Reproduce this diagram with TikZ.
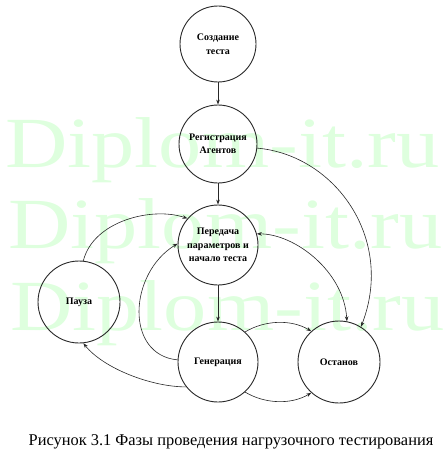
\documentclass[tikz,border=0pt]{standalone}
\usepackage{fontspec}
\setmainfont{Liberation Serif}
\usetikzlibrary{arrows.meta}
\definecolor{wmgreen}{RGB}{222,255,222}
\definecolor{lineink}{RGB}{40,40,40}
\begin{document}
\begin{tikzpicture}[x=1pt,y=-1pt,
  >={Stealth[length=5pt,width=3.6pt]},
  phase/.style={circle,draw=lineink,line width=0.9pt,inner sep=0pt,
    font=\bfseries\fontsize{10}{13.5}\selectfont,align=center},
  conn/.style={draw=lineink,line width=0.6pt,->},
  conn2/.style={draw=lineink,line width=0.6pt,<->},
  wm/.style={text=wmgreen,font=\fontsize{72}{72}\selectfont,anchor=base west,inner sep=0pt,xscale=1.2}]
\useasboundingbox (0,0) rectangle (446,460);
% watermark
\node[wm] (wm1) at (5,167) {Diplom-it.ru};
\node[wm] (wm2) at (8,248) {Diplom-it.ru};
\node[wm] (wm3) at (10,330) {Diplom-it.ru};
% phases
\node[phase,minimum size=76] (create) at (218,44) {Создание\\теста};
\node[phase,minimum size=78] (reg) at (218,144) {Регистрация\\Агентов};
\node[phase,minimum size=80] (pere) at (218,245) {Передача\\параметров и\\начало теста};
\node[phase,minimum size=82] (pause) at (79,302) {Пауза};
\node[phase,minimum size=80] (gen) at (218,362) {Генерация};
\node[phase,minimum size=82] (ost) at (339,362) {Останов};
% caption
\node[font=\fontsize{16.4}{19}\selectfont,anchor=base,inner sep=0pt] (cap) at (231,445)
  {Рисунок 3.1 Фазы проведения нагрузочного тестирования};
% connectors
\draw[conn] (create) -- (reg);
\draw[conn] (reg) -- (pere);
\draw[conn] (pere) -- (gen);
\draw[conn] (reg.-6) .. controls +(78,7) and +(34,-88) .. (ost.58);
\draw[conn2] (pere.16) .. controls +(38,0) and +(-3,-50) .. (ost.79);
\draw[conn] (gen.48) .. controls +(20,-12) and +(-20,-12) .. (ost.132);
\draw[conn] (gen.-48) .. controls +(20,12) and +(-20,12) .. (ost.-132);
\draw[conn] (gen.218) .. controls +(-35,0) and +(20,25) .. (pause.-84);
\draw[conn] (pause.84) .. controls +(10,-40) and +(-35,-12) .. (pere.139);
\draw[conn] (gen.177) .. controls +(-53,-5) and +(-49,30) .. (pere.178);
\end{tikzpicture}
\end{document}
